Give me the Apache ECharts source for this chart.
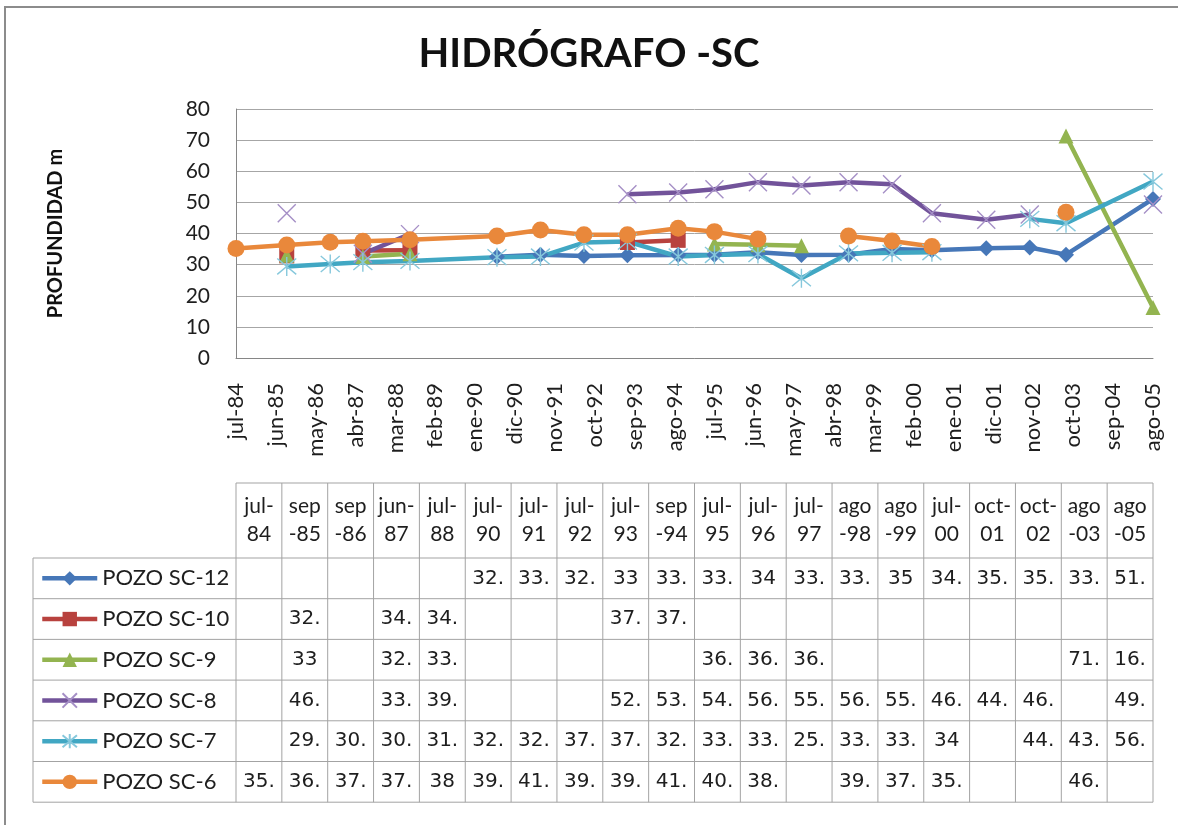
<!DOCTYPE html>
<html>
<head>
<meta charset="utf-8">
<title>HIDRÓGRAFO -SC</title>
<script src="https://cdn.jsdelivr.net/npm/echarts@6/dist/echarts.min.js"></script>
<style>
  html, body { margin: 0; padding: 0; background: #fff; }
  #main { width: 1178px; height: 825px; }
</style>
</head>
<body>
<div id="main"></div>
<script>
// fechas de medicion (columnas de la tabla de datos)
const fechas = ['jul-84', 'sep-85', 'sep-86', 'jun-87', 'jul-88', 'jul-90', 'jul-91', 'jul-92', 'jul-93', 'sep-94',
  'jul-95', 'jul-96', 'jul-97', 'ago-98', 'ago-99', 'jul-00', 'oct-01', 'oct-02', 'ago-03', 'ago-05'];
// cabecera de la tabla, partida en dos lineas como en excel
const cabecera = ['jul-\n84', 'sep\n-85', 'sep\n-86', 'jun-\n87', 'jul-\n88', 'jul-\n90', 'jul-\n91', 'jul-\n92', 'jul-\n93', 'sep\n-94',
  'jul-\n95', 'jul-\n96', 'jul-\n97', 'ago\n-98', 'ago\n-99', 'jul-\n00', 'oct-\n01', 'oct-\n02', 'ago\n-03', 'ago\n-05'];
// etiquetas del eje x (cada 11 meses desde jul-84)
const etiquetasEje = ['jul-84', 'jun-85', 'may-86', 'abr-87', 'mar-88', 'feb-89', 'ene-90', 'dic-90', 'nov-91', 'oct-92',
  'sep-93', 'ago-94', 'jul-95', 'jun-96', 'may-97', 'abr-98', 'mar-99', 'feb-00', 'ene-01', 'dic-01', 'nov-02', 'oct-03', 'sep-04', 'ago-05'];
const etiquetasY = [0, 10, 20, 30, 40, 50, 60, 70, 80];

// profundidad (m) por pozo, null = sin dato
const pozoSC12 = [null, null, null, null, null, 32.5, 33.2, 32.8, 33, 33.1, 33.2, 34, 33.1, 33.2, 35, 34.6, 35.3, 35.5, 33.2, 51.1];
const pozoSC10 = [null, 32.8, null, 34.5, 34.6, null, null, null, 37.1, 37.8, null, null, null, null, null, null, null, null, null, null];
const pozoSC9 = [null, 33, null, 32.6, 33.5, null, null, null, null, null, 36.6, 36.4, 36.1, null, null, null, null, null, 71.3, 16.2];
const pozoSC8 = [null, 46.5, null, 33.5, 39.8, null, null, null, 52.6, 53.2, 54.2, 56.5, 55.4, 56.5, 55.8, 46.5, 44.4, 46.1, null, 49.3];
const pozoSC7 = [null, 29.4, 30.2, 30.8, 31.2, 32.4, 32.6, 37.1, 37.4, 32.6, 33.1, 33.4, 25.6, 33.6, 33.8, 34, null, 44.7, 43.3, 56.7];
const pozoSC6 = [35.2, 36.3, 37.2, 37.5, 38, 39.2, 41.1, 39.6, 39.6, 41.7, 40.6, 38.2, null, 39.2, 37.6, 35.8, null, null, 46.8, null];

const nombres = ['POZO SC-12', 'POZO SC-10', 'POZO SC-9', 'POZO SC-8', 'POZO SC-7', 'POZO SC-6'];
const valores = [pozoSC12, pozoSC10, pozoSC9, pozoSC8, pozoSC7, pozoSC6];

const MES = { ene: 0, feb: 1, mar: 2, abr: 3, may: 4, jun: 5, jul: 6, ago: 7, sep: 8, oct: 9, nov: 10, dic: 11 };
// meses transcurridos desde jul-84
const meses = fechas.map(f => {
  const [m, a] = f.split('-');
  const anio = +a < 50 ? 2000 + +a : 1900 + +a;
  return anio * 12 + MES[m] - (1984 * 12 + 6);
});

const estilos = [
  { color: '#4677b8', symbol: 'diamond', size: 16, item: { color: '#4677b8' } },
  { color: '#b8423e', symbol: 'rect', size: 15, item: { color: '#b8423e' } },
  { color: '#93b450', symbol: 'triangle', size: 15, item: { color: '#93b450' } },
  { color: '#72539a', symbol: 'path://M0,0L10,10M10,0L0,10', size: 18,
    item: { color: 'rgba(0,0,0,0)', borderColor: '#a58fc6', borderWidth: 1.4 } },
  { color: '#41a7c3', symbol: 'path://M0,0L10,10M10,0L0,10M5,-1L5,11', size: 19,
    item: { color: 'rgba(0,0,0,0)', borderColor: '#86c8dc', borderWidth: 1.4 } },
  { color: '#e9883b', symbol: 'circle', size: 17, item: { color: '#e9883b' } }
];

const series = nombres.map((n, k) => ({
  name: n,
  type: 'line',
  data: valores[k].map((v, i) => [meses[i], v]),
  symbol: estilos[k].symbol,
  symbolSize: estilos[k].size,
  showAllSymbol: true,
  connectNulls: false,
  lineStyle: { color: estilos[k].color, width: 4.5 },
  itemStyle: estilos[k].item,
  emphasis: { disabled: true }
}));

// tabla de datos bajo el grafico
const T = { izq: 33, x0: 236, anchoCol: 45.85, yCab: 483, y0: 558, altoFila: 40.7 };
const colorTabla = '#a3a3a3';
const elementos = [];
const linea = (x1, y1, x2, y2) => ({
  type: 'line', silent: true,
  shape: { x1: x1, y1: y1, x2: x2, y2: y2 },
  style: { stroke: colorTabla, lineWidth: 1 }
});
const texto = (t, x, y, fuente, tam, alto) => ({
  type: 'text', silent: true,
  style: {
    text: t, x: x, y: y, fill: '#1e1e1e', fontSize: tam, fontFamily: fuente, lineHeight: alto,
    align: 'center', verticalAlign: 'middle', textAlign: 'center', textVerticalAlign: 'middle'
  }
});
const nCol = fechas.length, nFil = nombres.length;
const xFin = T.x0 + nCol * T.anchoCol;
const yFin = T.y0 + nFil * T.altoFila;
elementos.push(linea(T.x0, T.yCab, xFin, T.yCab));
for (let f = 0; f <= nFil; f++) {
  const y = T.y0 + f * T.altoFila;
  elementos.push(linea(T.izq, y, xFin, y));
}
elementos.push(linea(T.izq, T.y0, T.izq, yFin));
for (let c = 0; c <= nCol; c++) {
  const x = T.x0 + c * T.anchoCol;
  elementos.push(linea(x, T.yCab, x, yFin));
}
cabecera.forEach((t, c) => {
  elementos.push(texto(t, T.x0 + (c + 0.5) * T.anchoCol, (T.yCab + T.y0) / 2, 'Lato', 21, 28));
});
const textoCelda = v => (v == null ? '' : Number.isInteger(v) ? String(v) : Math.trunc(v) + '.');
valores.forEach((fila, f) => {
  fila.forEach((v, c) => {
    if (v == null) return;
    elementos.push(texto(textoCelda(v), T.x0 + (c + 0.5) * T.anchoCol, T.y0 + (f + 0.5) * T.altoFila, 'DejaVu Sans', 20, 22));
  });
});
// marco del area del grafico
elementos.push({
  type: 'rect', silent: true,
  shape: { x: 5, y: 7, width: 1400, height: 1000 },
  style: { fill: 'none', stroke: '#8c8c8c', lineWidth: 2 }
});

// una leyenda por fila de la tabla
const leyendas = nombres.map((n, f) => ({
  orient: 'vertical',
  left: 40,
  top: T.y0 + (f + 0.5) * T.altoFila - 11,
  padding: 0,
  itemWidth: 55,
  itemHeight: 18,
  selectedMode: false,
  lineStyle: { width: 4.5 },
  textStyle: { fontFamily: 'Lato', fontSize: 22, color: '#1e1e1e' },
  data: [n]
}));

const myChart = echarts.init(document.getElementById('main'));
myChart.setOption({
  animation: false,
  backgroundColor: '#fff',
  textStyle: { fontFamily: 'Lato' },
  title: {
    text: 'HIDRÓGRAFO -SC',
    left: 'center',
    top: 29,
    textStyle: { fontFamily: 'Lato', fontWeight: 'bold', fontSize: 40, color: '#111' }
  },
  legend: leyendas,
  grid: { left: 236, right: 25, top: 109, bottom: 467, containLabel: false },
  xAxis: {
    type: 'value',
    min: 0,
    max: (etiquetasEje.length - 1) * 11,
    interval: 11,
    axisLine: { lineStyle: { color: '#868686', width: 1 } },
    axisTick: { show: false },
    splitLine: { show: false },
    axisLabel: {
      rotate: 90,
      margin: 25,
      fontSize: 22,
      color: '#1e1e1e',
      formatter: v => etiquetasEje[Math.round(v / 11)]
    }
  },
  yAxis: {
    type: 'value',
    min: etiquetasY[0],
    max: etiquetasY[etiquetasY.length - 1],
    interval: 10,
    name: 'PROFUNDIDAD m',
    nameLocation: 'middle',
    nameGap: 170,
    nameTextStyle: { fontFamily: 'Lato', fontWeight: 'bold', fontSize: 20, color: '#111' },
    axisLine: { show: true, lineStyle: { color: '#868686', width: 1 } },
    axisTick: { show: false },
    splitLine: { lineStyle: { color: '#a6a6a6', width: 1 } },
    axisLabel: { margin: 26, fontSize: 21, color: '#1e1e1e' }
  },
  graphic: { elements: elementos },
  series: series
});
window.addEventListener('resize', function () {
  myChart.resize();
});
</script>
</body>
</html>
